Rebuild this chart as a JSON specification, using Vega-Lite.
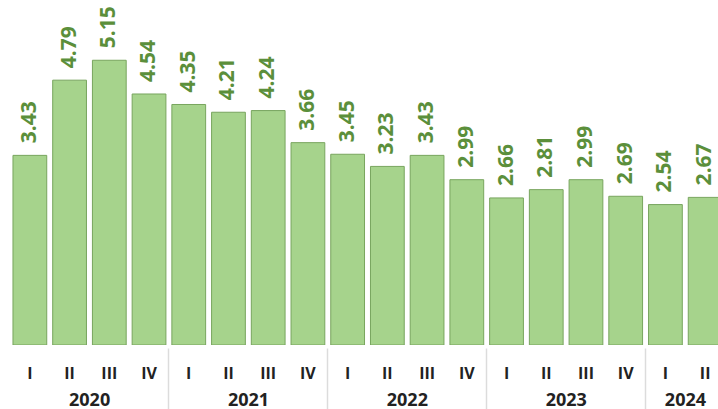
{
  "$schema": "https://vega.github.io/schema/vega-lite/v6.json",
  "width": 718,
  "height": 345,
  "autosize": "none",
  "padding": {"left": 0, "right": 0, "top": 0, "bottom": 64},
  "background": "white",
  "config": {"view": {"stroke": null}, "font": "Open Sans"},
  "data": {
    "values": [
      {"key": "2020 I", "value": 3.43},
      {"key": "2020 II", "value": 4.79},
      {"key": "2020 III", "value": 5.15},
      {"key": "2020 IV", "value": 4.54},
      {"key": "2021 I", "value": 4.35},
      {"key": "2021 II", "value": 4.21},
      {"key": "2021 III", "value": 4.24},
      {"key": "2021 IV", "value": 3.66},
      {"key": "2022 I", "value": 3.45},
      {"key": "2022 II", "value": 3.23},
      {"key": "2022 III", "value": 3.43},
      {"key": "2022 IV", "value": 2.99},
      {"key": "2023 I", "value": 2.66},
      {"key": "2023 II", "value": 2.81},
      {"key": "2023 III", "value": 2.99},
      {"key": "2023 IV", "value": 2.69},
      {"key": "2024 I", "value": 2.54},
      {"key": "2024 II", "value": 2.67}
    ]
  },
  "layer": [
    {
      "mark": {"type": "bar", "fill": "#a6d38c", "stroke": "#78a55e", "strokeWidth": 1, "clip": true},
      "encoding": {
        "x": {
          "field": "key", "type": "nominal", "sort": null,
          "scale": {"type": "band", "range": [10, 725], "paddingInner": 0.15, "paddingOuter": 0.075},
          "axis": {
            "orient": "bottom", "title": null, "domain": false, "ticks": false, "grid": false,
            "labelAngle": 0, "labelExpr": "split(datum.value, ' ')[1]",
            "labelFontWeight": "bold", "labelFontSize": 16, "labelColor": "#222222",
            "labelPadding": 28, "labelBaseline": "middle"
          }
        },
        "y": {"field": "value", "type": "quantitative", "scale": {"domain": [0, 6.24], "nice": false}, "axis": null}
      }
    },
    {
      "mark": {"type": "text", "angle": 270, "align": "left", "baseline": "middle", "dx": 12,
               "fontWeight": "bold", "fontSize": 21, "color": "#5b8f3b"},
      "encoding": {
        "x": {
          "field": "key", "type": "nominal", "sort": null,
          "axis": {
            "orient": "bottom", "title": null, "domain": false, "ticks": false, "grid": false,
            "values": ["2020 II", "2021 II", "2022 II", "2023 II", "2024 I"],
            "labelOffset": 20, "labelAngle": 0, "labelExpr": "substring(datum.value, 0, 4)",
            "labelFontWeight": "bold", "labelFontSize": 18, "labelColor": "#222222",
            "labelPadding": 55, "labelBaseline": "middle"
          }
        },
        "y": {"field": "value", "type": "quantitative"},
        "text": {"field": "value", "type": "quantitative", "format": ".2f"}
      }
    },
    {
      "mark": {"type": "bar", "opacity": 0},
      "encoding": {
        "x": {
          "field": "key", "type": "nominal", "sort": null,
          "axis": {
            "orient": "bottom", "title": null, "domain": false, "labels": false, "grid": false,
            "values": ["2020 IV", "2021 IV", "2022 IV", "2023 IV"],
            "bandPosition": 1.088, "offset": 3, "ticks": true, "tickSize": 61,
            "tickColor": "#dcdcdc", "tickWidth": 1.5
          }
        },
        "y": {"field": "value", "type": "quantitative"}
      }
    }
  ],
  "resolve": {"axis": {"x": "independent"}}
}
